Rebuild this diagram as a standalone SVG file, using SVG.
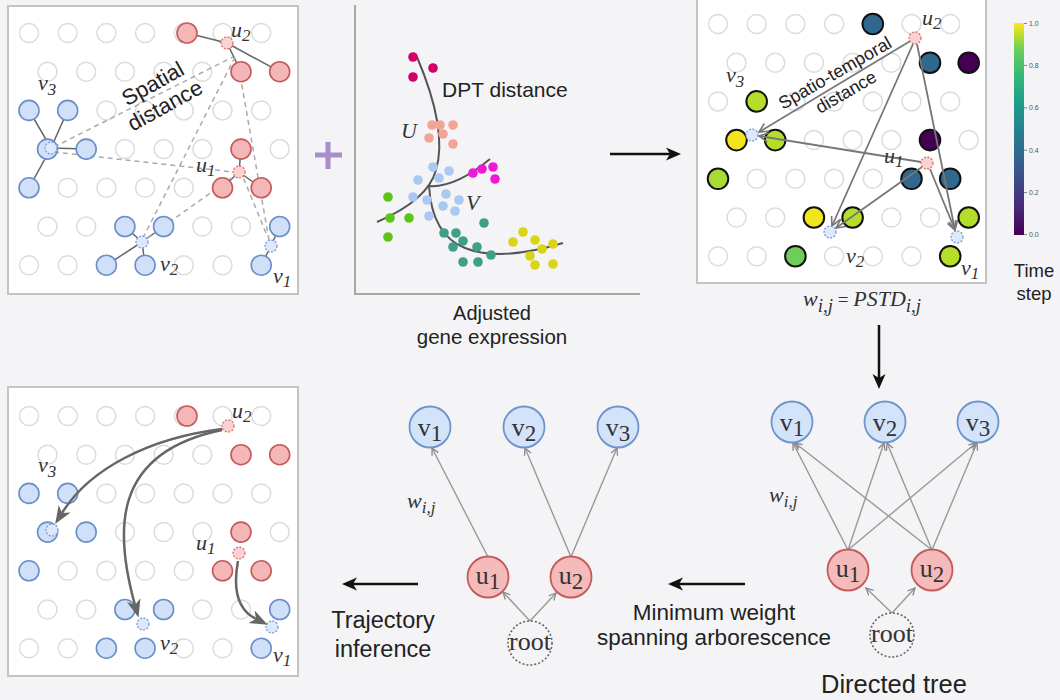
<svg xmlns="http://www.w3.org/2000/svg" width="1060" height="700" viewBox="0 0 1060 700">
<style>
.g{fill:#fff;stroke:#dcdcdc;stroke-width:1.5}
.bl{fill:#cfe0f8;stroke:#6a8ec8;stroke-width:1.6}
.rd{fill:#f4b7b7;stroke:#c45a5a;stroke-width:1.6}
.hb{fill:#dde9fb;stroke:#7a9fd8;stroke-width:1.3;stroke-dasharray:2,1.5}
.hr{fill:#f9d2d2;stroke:#e07272;stroke-width:1.3;stroke-dasharray:2,1.5}
.tc{stroke:#111;stroke-width:2}
.panel{fill:#fff;stroke:#c4c4c4;stroke-width:2}
.it{font-family:"Liberation Serif",serif;font-style:italic;font-size:22px;fill:#333}
.sub{font-size:17px}
.sans{font-family:"Liberation Sans",Arial,sans-serif;fill:#222}
.hub{stroke:#666;stroke-width:1.5;fill:none}
.dsh{stroke:#aaa;stroke-width:1.5;stroke-dasharray:5,4;fill:none}
.st{stroke:#777;stroke-width:1.8;fill:none}
.edge{stroke:#999;stroke-width:1.4;fill:none}
.curve{stroke:#666;stroke-width:2.5;fill:none}
.blk{stroke:#111;stroke-width:2.5;fill:none}
.nv{fill:#d3e3f9;stroke:#6e94cc;stroke-width:1.8}
.nu{fill:#f5baba;stroke:#c45a5a;stroke-width:1.8}
.nr{fill:none;stroke:#666;stroke-width:1.6;stroke-dasharray:2,2}
.nl{font-family:"Liberation Serif",serif;font-size:26px;fill:#333;text-anchor:middle}
.nls{font-size:23px}
.dpt{stroke:#555;stroke-width:2;fill:none}
.tk{font-family:"Liberation Sans",Arial,sans-serif;font-size:7px;fill:#555}
</style>
<defs>
<g id="grid">
<circle class="g" cx="0" cy="0" r="9.5"/><circle class="g" cx="38.7" cy="0" r="9.5"/><circle class="g" cx="77.4" cy="0" r="9.5"/><circle class="g" cx="116.1" cy="0" r="9.5"/><circle class="g" cx="154.8" cy="0" r="9.5"/><circle class="g" cx="193.5" cy="0" r="9.5"/><circle class="g" cx="232.2" cy="0" r="9.5"/>
<circle class="g" cx="18.5" cy="38.7" r="9.5"/><circle class="g" cx="57.2" cy="38.7" r="9.5"/><circle class="g" cx="95.9" cy="38.7" r="9.5"/><circle class="g" cx="134.6" cy="38.7" r="9.5"/><circle class="g" cx="173.3" cy="38.7" r="9.5"/><circle class="g" cx="212" cy="38.7" r="9.5"/><circle class="g" cx="250.7" cy="38.7" r="9.5"/>
<circle class="g" cx="0" cy="77.4" r="9.5"/><circle class="g" cx="38.7" cy="77.4" r="9.5"/><circle class="g" cx="77.4" cy="77.4" r="9.5"/><circle class="g" cx="116.1" cy="77.4" r="9.5"/><circle class="g" cx="154.8" cy="77.4" r="9.5"/><circle class="g" cx="193.5" cy="77.4" r="9.5"/><circle class="g" cx="232.2" cy="77.4" r="9.5"/>
<circle class="g" cx="18.5" cy="116.1" r="9.5"/><circle class="g" cx="57.2" cy="116.1" r="9.5"/><circle class="g" cx="95.9" cy="116.1" r="9.5"/><circle class="g" cx="134.6" cy="116.1" r="9.5"/><circle class="g" cx="173.3" cy="116.1" r="9.5"/><circle class="g" cx="212" cy="116.1" r="9.5"/><circle class="g" cx="250.7" cy="116.1" r="9.5"/>
<circle class="g" cx="0" cy="154.8" r="9.5"/><circle class="g" cx="38.7" cy="154.8" r="9.5"/><circle class="g" cx="77.4" cy="154.8" r="9.5"/><circle class="g" cx="116.1" cy="154.8" r="9.5"/><circle class="g" cx="154.8" cy="154.8" r="9.5"/><circle class="g" cx="193.5" cy="154.8" r="9.5"/><circle class="g" cx="232.2" cy="154.8" r="9.5"/>
<circle class="g" cx="18.5" cy="193.5" r="9.5"/><circle class="g" cx="57.2" cy="193.5" r="9.5"/><circle class="g" cx="95.9" cy="193.5" r="9.5"/><circle class="g" cx="134.6" cy="193.5" r="9.5"/><circle class="g" cx="173.3" cy="193.5" r="9.5"/><circle class="g" cx="212" cy="193.5" r="9.5"/><circle class="g" cx="250.7" cy="193.5" r="9.5"/>
<circle class="g" cx="0" cy="232.2" r="9.5"/><circle class="g" cx="38.7" cy="232.2" r="9.5"/><circle class="g" cx="77.4" cy="232.2" r="9.5"/><circle class="g" cx="116.1" cy="232.2" r="9.5"/><circle class="g" cx="154.8" cy="232.2" r="9.5"/><circle class="g" cx="193.5" cy="232.2" r="9.5"/><circle class="g" cx="232.2" cy="232.2" r="9.5"/>
</g>
<marker id="chev" viewBox="-9 -6 11 12" refX="0" refY="0" markerWidth="11" markerHeight="12" markerUnits="userSpaceOnUse" orient="auto"><path d="M-7,-3.5 L0,0 L-7,3.5" fill="none" stroke="#888" stroke-width="1.3"/></marker>
<marker id="chev2" viewBox="-11 -7 13 14" refX="0" refY="0" markerWidth="13" markerHeight="14" markerUnits="userSpaceOnUse" orient="auto"><path d="M-9,-4.5 L0,0 L-9,4.5" fill="none" stroke="#777" stroke-width="1.6"/></marker>
<marker id="blkhead" viewBox="0 -7 16 14" refX="4" refY="0" markerWidth="16" markerHeight="14" markerUnits="userSpaceOnUse" orient="auto"><path d="M0,-6.5 L15,0 L0,6.5 L4,0 Z" fill="#111"/></marker>
<marker id="grayhead" viewBox="0 -8 19 16" refX="5" refY="0" markerWidth="19" markerHeight="16" markerUnits="userSpaceOnUse" orient="auto"><path d="M0,-7 L18,0 L0,7 L5,0 Z" fill="#666"/></marker>
<linearGradient id="vir" x1="0" y1="1" x2="0" y2="0">
<stop offset="0" stop-color="#440154"/><stop offset="0.13" stop-color="#482878"/><stop offset="0.25" stop-color="#3e4989"/><stop offset="0.38" stop-color="#31688e"/><stop offset="0.5" stop-color="#26828e"/><stop offset="0.63" stop-color="#1f9e89"/><stop offset="0.75" stop-color="#35b779"/><stop offset="0.88" stop-color="#6ece58"/><stop offset="0.94" stop-color="#b5de2b"/><stop offset="1" stop-color="#fde725"/>
</linearGradient>
</defs>
<rect x="0" y="0" width="1060" height="700" fill="#f4f4f6"/>

<!-- Top-left panel: spatial distance -->
<g id="panel-spatial">
<rect class="panel" x="8" y="6" width="290" height="288"/>
<use href="#grid" transform="translate(29,33)"/>
<g class="hub">
<line x1="227" y1="43" x2="187" y2="33"/><line x1="227" y1="43" x2="241" y2="71.7"/><line x1="227" y1="43" x2="279.7" y2="71.7"/>
<line x1="51" y1="148" x2="29" y2="110.4"/><line x1="51" y1="148" x2="67.7" y2="110.4"/><line x1="51" y1="148" x2="86.2" y2="149.1"/><line x1="51" y1="148" x2="29" y2="187.8"/>
<line x1="239" y1="172" x2="241" y2="149.1"/><line x1="239" y1="172" x2="222.5" y2="187.8"/><line x1="239" y1="172" x2="261.2" y2="187.8"/>
<line x1="142" y1="242" x2="124.9" y2="226.5"/><line x1="142" y1="242" x2="163.6" y2="226.5"/><line x1="142" y1="242" x2="106.4" y2="265.2"/><line x1="142" y1="242" x2="145.1" y2="265.2"/>
<line x1="271" y1="246" x2="279.7" y2="226.5"/><line x1="271" y1="246" x2="261.2" y2="265.2"/>
</g>
<g class="dsh">
<line x1="54" y1="147" x2="233" y2="57"/><line x1="54" y1="152" x2="233" y2="172"/>
<line x1="143" y1="238" x2="235" y2="57"/><line x1="147" y1="238" x2="233" y2="177"/>
<line x1="269" y1="240" x2="238" y2="63"/><line x1="266" y1="233" x2="243" y2="177"/>
</g>
<circle class="rd" cx="187" cy="33" r="10"/><circle class="rd" cx="241" cy="71.7" r="10"/><circle class="rd" cx="279.7" cy="71.7" r="10"/>
<circle class="bl" cx="29" cy="110.4" r="10"/><circle class="bl" cx="67.7" cy="110.4" r="10"/>
<circle class="bl" cx="47.5" cy="149.1" r="10"/><circle class="bl" cx="86.2" cy="149.1" r="10"/><circle class="rd" cx="241" cy="149.1" r="10"/>
<circle class="bl" cx="29" cy="187.8" r="10"/><circle class="rd" cx="222.5" cy="187.8" r="10"/><circle class="rd" cx="261.2" cy="187.8" r="10"/>
<circle class="bl" cx="124.9" cy="226.5" r="10"/><circle class="bl" cx="163.6" cy="226.5" r="10"/><circle class="bl" cx="279.7" cy="226.5" r="10"/>
<circle class="bl" cx="106.4" cy="265.2" r="10"/><circle class="bl" cx="145.1" cy="265.2" r="10"/><circle class="bl" cx="261.2" cy="265.2" r="10"/>
<circle class="hr" cx="227" cy="43" r="6"/><circle class="hb" cx="51" cy="148" r="6"/><circle class="hr" cx="239" cy="172" r="6"/><circle class="hb" cx="142" cy="242" r="6"/><circle class="hb" cx="271" cy="246" r="6"/>
<text class="it" x="231" y="37">u<tspan class="sub" dy="4">2</tspan></text>
<text class="it" x="38" y="90">v<tspan class="sub" dy="5">3</tspan></text>
<text class="it" x="196" y="172">u<tspan class="sub" dy="4">1</tspan></text>
<text class="it" x="160" y="271">v<tspan class="sub" dy="4">2</tspan></text>
<text class="it" x="273" y="283">v<tspan class="sub" dy="4">1</tspan></text>
<g transform="translate(153,84) rotate(-29)" class="sans" font-size="22" text-anchor="middle">
<text x="0" y="7">Spatial</text><text x="0" y="32">distance</text>
</g>
</g>

<!-- plus -->
<g id="plus" stroke="#a98ccb" stroke-width="5" stroke-linecap="butt">
<line x1="315" y1="155" x2="342" y2="155"/><line x1="328" y1="142" x2="328" y2="169"/>
</g>

<!-- Middle panel: DPT -->
<g id="panel-dpt">
<polyline points="355,5 355,294 640,294" fill="none" stroke="#a8a8a8" stroke-width="2"/>
<path class="dpt" d="M417,57 Q448,130 436,170 Q428,200 377,222"/>
<path class="dpt" d="M429,186 Q455,188 490,159"/>
<path class="dpt" d="M429,186 Q432,235 465,248 Q500,262 563,243"/>
<g fill="#d4006a"><circle cx="413" cy="57" r="4.8"/><circle cx="433" cy="68" r="4.8"/><circle cx="413" cy="77" r="4.8"/></g>
<g fill="#f1a596"><circle cx="432" cy="125" r="4.8"/><circle cx="440" cy="125" r="4.8"/><circle cx="453" cy="125" r="4.8"/><circle cx="429" cy="138" r="4.8"/><circle cx="443" cy="134" r="4.8"/><circle cx="453" cy="144" r="4.8"/></g>
<g fill="#a9c9f2"><circle cx="433" cy="167" r="4.8"/><circle cx="449" cy="171" r="4.8"/><circle cx="418" cy="180" r="4.8"/><circle cx="439" cy="178" r="4.8"/><circle cx="413" cy="197" r="4.8"/><circle cx="446" cy="194" r="4.8"/><circle cx="459" cy="200" r="4.8"/><circle cx="427" cy="200" r="4.8"/><circle cx="443" cy="206" r="4.8"/><circle cx="455" cy="211" r="4.8"/><circle cx="429" cy="216" r="4.8"/></g>
<g fill="#f018d8"><circle cx="473" cy="173" r="4.8"/><circle cx="482" cy="169" r="4.8"/><circle cx="493" cy="167" r="4.8"/><circle cx="495" cy="179" r="4.8"/></g>
<g fill="#5ec41a"><circle cx="388" cy="197" r="4.8"/><circle cx="390" cy="218" r="4.8"/><circle cx="409" cy="218" r="4.8"/><circle cx="388" cy="237" r="4.8"/></g>
<g fill="#3f9f8a"><circle cx="484" cy="223" r="4.8"/><circle cx="444" cy="233" r="4.8"/><circle cx="456" cy="233" r="4.8"/><circle cx="463" cy="241" r="4.8"/><circle cx="453" cy="247" r="4.8"/><circle cx="477" cy="247" r="4.8"/><circle cx="491" cy="255" r="4.8"/><circle cx="463" cy="262" r="4.8"/><circle cx="478" cy="262" r="4.8"/></g>
<g fill="#d9d416"><circle cx="523" cy="232" r="4.8"/><circle cx="513" cy="242" r="4.8"/><circle cx="535" cy="240" r="4.8"/><circle cx="553" cy="244" r="4.8"/><circle cx="530" cy="256" r="4.8"/><circle cx="542" cy="249" r="4.8"/><circle cx="535" cy="265" r="4.8"/><circle cx="553" cy="264" r="4.8"/></g>
<text class="sans" x="442" y="97" font-size="21">DPT distance</text>
<text class="it" x="401" y="138" font-size="22">U</text>
<text class="it" x="466" y="210" font-size="22">V</text>
<text class="sans" x="492" y="320" font-size="20" text-anchor="middle">Adjusted</text>
<text class="sans" x="492" y="344" font-size="20.5" text-anchor="middle">gene expression</text>
</g>

<!-- Top-right panel: spatio-temporal -->
<g id="panel-st">
<rect class="panel" x="697" y="-3" width="289" height="286"/>
<use href="#grid" transform="translate(718,24)"/>
<circle class="tc" cx="872.8" cy="24" r="10.3" fill="#31688e"/>
<circle class="tc" cx="930" cy="62.7" r="10.3" fill="#31688e"/><circle class="tc" cx="968.7" cy="62.7" r="10.3" fill="#440154"/>
<circle class="tc" cx="756.7" cy="101.4" r="10.3" fill="#b5de2b"/>
<circle class="tc" cx="736.5" cy="140.1" r="10.3" fill="#f1e51d"/><circle class="tc" cx="775.2" cy="140.1" r="10.3" fill="#b5de2b"/><circle class="tc" cx="930" cy="140.1" r="10.3" fill="#440154"/>
<circle class="tc" cx="718" cy="178.8" r="10.3" fill="#a8db34"/><circle class="tc" cx="911.5" cy="178.8" r="10.3" fill="#31688e"/><circle class="tc" cx="950.2" cy="178.8" r="10.3" fill="#31688e"/>
<circle class="tc" cx="813.9" cy="217.5" r="10.3" fill="#f1e51d"/><circle class="tc" cx="852.6" cy="217.5" r="10.3" fill="#b5de2b"/><circle class="tc" cx="968.7" cy="217.5" r="10.3" fill="#b5de2b"/>
<circle class="tc" cx="795.4" cy="256.2" r="10.3" fill="#6ece58"/><circle class="tc" cx="950.2" cy="256.2" r="10.3" fill="#b5de2b"/>
<g class="st" marker-end="url(#chev2)">
<line x1="912" y1="40" x2="759" y2="132"/>
<line x1="913" y1="44" x2="832" y2="226"/>
<line x1="917" y1="44" x2="955" y2="230"/>
<line x1="921" y1="162" x2="759" y2="136"/>
<line x1="922" y1="167" x2="836" y2="228"/>
<line x1="930" y1="169" x2="955" y2="230"/>
</g>
<circle class="hr" cx="915" cy="38" r="6"/><circle class="hb" cx="752" cy="135" r="6"/><circle class="hr" cx="927" cy="163" r="6"/><circle class="hb" cx="830" cy="232" r="6"/><circle class="hb" cx="957" cy="237" r="6"/>
<text class="it" x="922" y="25">u<tspan class="sub" dy="4">2</tspan></text>
<text class="it" x="726" y="82">v<tspan class="sub" dy="5">3</tspan></text>
<text class="it" x="884" y="163">u<tspan class="sub" dy="4">1</tspan></text>
<text class="it" x="846" y="263">v<tspan class="sub" dy="4">2</tspan></text>
<text class="it" x="961" y="275">v<tspan class="sub" dy="4">1</tspan></text>
<g transform="translate(835,73) rotate(-30)" class="sans" font-size="18" text-anchor="middle">
<text x="0" y="6">Spatio-temporal</text><text x="0" y="28">distance</text>
</g>
</g>

<!-- colorbar -->
<g id="colorbar">
<rect x="1014" y="23" width="10" height="212" fill="url(#vir)"/>
<g stroke="#666" stroke-width="0.8">
<line x1="1024" y1="23.5" x2="1027" y2="23.5"/><line x1="1024" y1="65.4" x2="1027" y2="65.4"/><line x1="1024" y1="107.8" x2="1027" y2="107.8"/><line x1="1024" y1="150.2" x2="1027" y2="150.2"/><line x1="1024" y1="192.6" x2="1027" y2="192.6"/><line x1="1024" y1="234.5" x2="1027" y2="234.5"/>
</g>
<text class="tk" x="1029" y="26">1.0</text><text class="tk" x="1029" y="68">0.8</text><text class="tk" x="1029" y="110">0.6</text><text class="tk" x="1029" y="153">0.4</text><text class="tk" x="1029" y="195">0.2</text><text class="tk" x="1029" y="237">0.0</text>
<text class="sans" x="1034" y="277" font-size="18.5" text-anchor="middle">Time</text>
<text class="sans" x="1034" y="300" font-size="18.5" text-anchor="middle">step</text>
</g>

<text id="formula" class="it" x="803" y="306" font-size="27">w<tspan font-size="19" dy="6">i,j</tspan><tspan font-style="normal" font-size="19" dy="-6"> = </tspan>PSTD<tspan font-size="19" dy="6">i,j</tspan></text>

<!-- Bottom-left panel: trajectory -->
<g id="panel-traj" transform="translate(0,383)">
<rect class="panel" x="8" y="4" width="290" height="289"/>
<use href="#grid" transform="translate(29,33)"/>
<circle class="rd" cx="187" cy="33" r="10"/><circle class="rd" cx="241" cy="71.7" r="10"/><circle class="rd" cx="279.7" cy="71.7" r="10"/>
<circle class="bl" cx="29" cy="110.4" r="10"/><circle class="bl" cx="67.7" cy="110.4" r="10"/>
<circle class="bl" cx="47.5" cy="149.1" r="10"/><circle class="bl" cx="86.2" cy="149.1" r="10"/><circle class="rd" cx="241" cy="149.1" r="10"/>
<circle class="bl" cx="29" cy="187.8" r="10"/><circle class="rd" cx="222.5" cy="187.8" r="10"/><circle class="rd" cx="261.2" cy="187.8" r="10"/>
<circle class="bl" cx="124.9" cy="226.5" r="10"/><circle class="bl" cx="163.6" cy="226.5" r="10"/><circle class="bl" cx="279.7" cy="226.5" r="10"/>
<circle class="bl" cx="106.4" cy="265.2" r="10"/><circle class="bl" cx="145.1" cy="265.2" r="10"/><circle class="bl" cx="261.2" cy="265.2" r="10"/>
<circle class="hr" cx="228" cy="43" r="6"/><circle class="hb" cx="52" cy="147" r="6"/><circle class="hr" cx="239" cy="170" r="6"/><circle class="hb" cx="143" cy="241" r="6"/><circle class="hb" cx="272" cy="244" r="6"/>
<g class="curve" marker-end="url(#grayhead)">
<path d="M222,46 C150,55 90,85 62,130"/>
<path d="M222,47 C110,70 115,150 135,222"/>
<path d="M238,178 C232,210 240,228 256,236"/>
</g>
<text class="it" x="232" y="35">u<tspan class="sub" dy="4">2</tspan></text>
<text class="it" x="38" y="89">v<tspan class="sub" dy="5">3</tspan></text>
<text class="it" x="196" y="167">u<tspan class="sub" dy="4">1</tspan></text>
<text class="it" x="160" y="267">v<tspan class="sub" dy="4">2</tspan></text>
<text class="it" x="273" y="279">v<tspan class="sub" dy="4">1</tspan></text>
</g>

<!-- Connectors -->
<g id="connectors">
<line class="blk" x1="610" y1="154" x2="670" y2="154" marker-end="url(#blkhead)"/>
<line class="blk" x1="879" y1="325" x2="879" y2="378" marker-end="url(#blkhead)"/>
<line class="blk" x1="745" y1="584" x2="679" y2="584" marker-end="url(#blkhead)"/>
<line class="blk" x1="418" y1="584" x2="353" y2="584" marker-end="url(#blkhead)"/>
<g class="edge" marker-end="url(#chev)">
<line x1="488" y1="557" x2="432" y2="448"/>
<line x1="571" y1="557" x2="525" y2="448"/>
<line x1="571" y1="557" x2="617" y2="448"/>
<line x1="530" y1="621" x2="503" y2="592"/>
<line x1="530" y1="621" x2="556" y2="593"/>
<line x1="848" y1="550" x2="793" y2="443"/>
<line x1="848" y1="550" x2="884" y2="443"/>
<line x1="848" y1="550" x2="976" y2="443"/>
<line x1="932" y1="550" x2="795" y2="443"/>
<line x1="932" y1="550" x2="887" y2="443"/>
<line x1="932" y1="550" x2="977" y2="443"/>
<line x1="892" y1="613" x2="866" y2="588"/>
<line x1="892" y1="613" x2="915" y2="588"/>
</g>
</g>

<!-- Bottom-middle tree -->
<g id="mst-v1"><circle class="nv" cx="430" cy="427" r="20.5"/><text class="nl" x="430" y="436">v<tspan class="nls" dy="5">1</tspan></text></g>
<g id="mst-v2"><circle class="nv" cx="524" cy="427" r="20.5"/><text class="nl" x="524" y="436">v<tspan class="nls" dy="5">2</tspan></text></g>
<g id="mst-v3"><circle class="nv" cx="618" cy="427" r="20.5"/><text class="nl" x="618" y="436">v<tspan class="nls" dy="5">3</tspan></text></g>
<g id="mst-u1"><circle class="nu" cx="488" cy="577" r="20.5"/><text class="nl" x="488" y="584">u<tspan class="nls" dy="5">1</tspan></text></g>
<g id="mst-u2"><circle class="nu" cx="571" cy="577" r="20.5"/><text class="nl" x="571" y="584">u<tspan class="nls" dy="5">2</tspan></text></g>
<g id="mst-root"><circle class="nr" cx="530" cy="643" r="22"/><text class="nl" x="530" y="650" font-size="23">root</text></g>
<text class="it" x="407" y="508" font-size="25">w<tspan class="sub" dy="5">i,j</tspan></text>
<text class="sans" x="383" y="628" font-size="23.5" text-anchor="middle">Trajectory</text>
<text class="sans" x="383" y="657" font-size="23.5" text-anchor="middle">inference</text>
<text class="sans" x="714" y="620" font-size="22.5" text-anchor="middle">Minimum weight</text>
<text class="sans" x="714" y="645" font-size="22.5" text-anchor="middle">spanning arborescence</text>

<!-- Bottom-right tree -->
<g id="dt-v1"><circle class="nv" cx="792" cy="422" r="20.5"/><text class="nl" x="792" y="431">v<tspan class="nls" dy="5">1</tspan></text></g>
<g id="dt-v2"><circle class="nv" cx="885" cy="422" r="20.5"/><text class="nl" x="885" y="431">v<tspan class="nls" dy="5">2</tspan></text></g>
<g id="dt-v3"><circle class="nv" cx="978" cy="422" r="20.5"/><text class="nl" x="978" y="431">v<tspan class="nls" dy="5">3</tspan></text></g>
<g id="dt-u1"><circle class="nu" cx="848" cy="570" r="20.5"/><text class="nl" x="848" y="577">u<tspan class="nls" dy="5">1</tspan></text></g>
<g id="dt-u2"><circle class="nu" cx="932" cy="570" r="20.5"/><text class="nl" x="932" y="577">u<tspan class="nls" dy="5">2</tspan></text></g>
<g id="dt-root"><circle class="nr" cx="892" cy="635" r="22"/><text class="nl" x="892" y="642" font-size="23">root</text></g>
<text class="it" x="769" y="502" font-size="25">w<tspan class="sub" dy="5">i,j</tspan></text>
<text class="sans" x="894" y="693" font-size="25.5" text-anchor="middle">Directed tree</text>
</svg>
